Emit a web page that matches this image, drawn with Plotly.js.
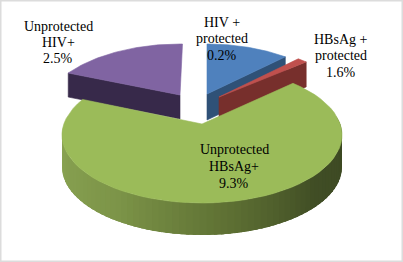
<!DOCTYPE html>
<html><head><meta charset="utf-8">
<script src="https://cdn.plot.ly/plotly-3.0.0.min.js"></script>
<style>html,body{margin:0;padding:0;background:#fff}#c{width:403px;height:262px}</style>
</head><body><div id="c"></div>
<script>
// Data
const categories = ["HIV + protected", "HBsAg + protected", "Unprotected HBsAg+", "Unprotected HIV+"];
const percentLabels = ["0.2%", "1.6%", "9.3%", "2.5%"];
const drawnShares = [9.45, 1.25, 72.5, 15.0];   // share of the circle as drawn (% of 360°)
const labelLines = [["HIV +", "protected"], ["HBsAg +", "protected"], ["Unprotected", "HBsAg+"], ["Unprotected", "HIV+"]];

// Styling / geometry
const topColors = ["#4f81bd", "#c0504d", "#9bbb59", "#8064a2"];
const sideColors = ["#2f5177", "#772f2c", null, "#37294a"];
const gapsBefore = [0, 0, 2, 5.5];
const apex = [[207, 94], [219, 97], [202, 124], [180, 95]];
const centre = [[207, 119], [219, 119], [202, 135], [180, 117]];
const radii = [[140, 75], [140, 73], [140, 68], [140, 73]];
const depth = [26, 25, 32, 24];
const facing = ["end", "end", null, "start"];
const labelPos = [[222, 22], [341, 39], [234, 149], [58, 26]];
const lineStep = [16.5, 16.5, 17, 16];

const rad = d => d * Math.PI / 180;
const rim = (i, deg, drop) => [
  centre[i][0] + radii[i][0] * Math.sin(rad(deg)),
  centre[i][1] - radii[i][1] * Math.cos(rad(deg)) + (drop || 0)
];
function poly(points, color, width) {
  return {
    type: "scatter", mode: "lines", fill: "toself", fillcolor: color,
    x: points.map(p => p[0]), y: points.map(p => p[1]),
    line: { color: color, width: width === undefined ? 0.6 : width }, hoverinfo: "skip", showlegend: false
  };
}

// slice angular ranges from the shares
let cursor = 0;
const ranges = drawnShares.map((s, i) => {
  cursor += gapsBefore[i];
  const a = cursor; cursor += s * 3.6;
  return [a, cursor];
});

function topFace(i) {
  const pts = [apex[i]];
  for (let k = 0; k <= 60; k++) {
    pts.push(rim(i, ranges[i][0] + (ranges[i][1] - ranges[i][0]) * k / 60));
  }
  pts.push(apex[i]);
  return poly(pts, topColors[i]);
}
function radialFace(i) {
  const deg = facing[i] === "end" ? ranges[i][1] : ranges[i][0];
  const r = rim(i, deg), a = apex[i], d = depth[i];
  return poly([a, r, [r[0], r[1] + d], [a[0], a[1] + d], a], sideColors[i]);
}
function mix(c1, c2, t) {
  const m = c1.map((v, k) => Math.round(v + (c2[k] - v) * t));
  return `rgb(${m[0]},${m[1]},${m[2]})`;
}
// green rim wall with its left-lit shading
function greenWall() {
  const i = 2, out = [], n = 70, from = 278, to = 78;
  const stops = [[0, [140, 166, 84]], [0.3, [124, 148, 72]], [0.55, [92, 110, 50]], [0.75, [64, 77, 37]], [1, [60, 72, 34]]];
  for (let k = 0; k < n; k++) {
    const a = from + (to - from) * k / n;
    const b = from + (to - from) * (k + 2.5) / n;
    const t = k / n;
    let j = 0;
    while (j < stops.length - 2 && t > stops[j + 1][0]) j++;
    const col = mix(stops[j][1], stops[j + 1][1], (t - stops[j][0]) / (stops[j + 1][0] - stops[j][0]));
    const p = rim(i, a), q = rim(i, b), p2 = rim(i, a, depth[i]), q2 = rim(i, b, depth[i]);
    out.push(poly([p, q, q2, p2, p], col, 0));
  }
  return out;
}

const traces = [
  radialFace(3), topFace(3),
  radialFace(0), topFace(0),
  radialFace(1), topFace(1),
  ...greenWall(), topFace(2)
];

const annotations = [];
categories.forEach((c, i) => {
  labelLines[i].concat([percentLabels[i]]).forEach((txt, l) => {
    annotations.push({
      xref: "x", yref: "y", x: labelPos[i][0], y: labelPos[i][1] + l * lineStep[i],
      text: txt, showarrow: false, xanchor: "center", yanchor: "middle",
      font: { family: "Liberation Serif", size: 14, color: "#000" }
    });
  });
});

Plotly.newPlot("c", traces, {
  width: 403, height: 262, margin: { l: 0, r: 0, t: 0, b: 0 },
  paper_bgcolor: "#fff", plot_bgcolor: "#fff", showlegend: false,
  xaxis: { range: [0, 403], visible: false, fixedrange: true },
  yaxis: { range: [262, 0], visible: false, fixedrange: true },
  annotations,
  shapes: [{ type: "rect", xref: "paper", yref: "paper", x0: 0, x1: 1, y0: 0, y1: 1,
    line: { color: "#dcdcdc", width: 3 } }]
}, { displayModeBar: false, staticPlot: true });
</script></body></html>
